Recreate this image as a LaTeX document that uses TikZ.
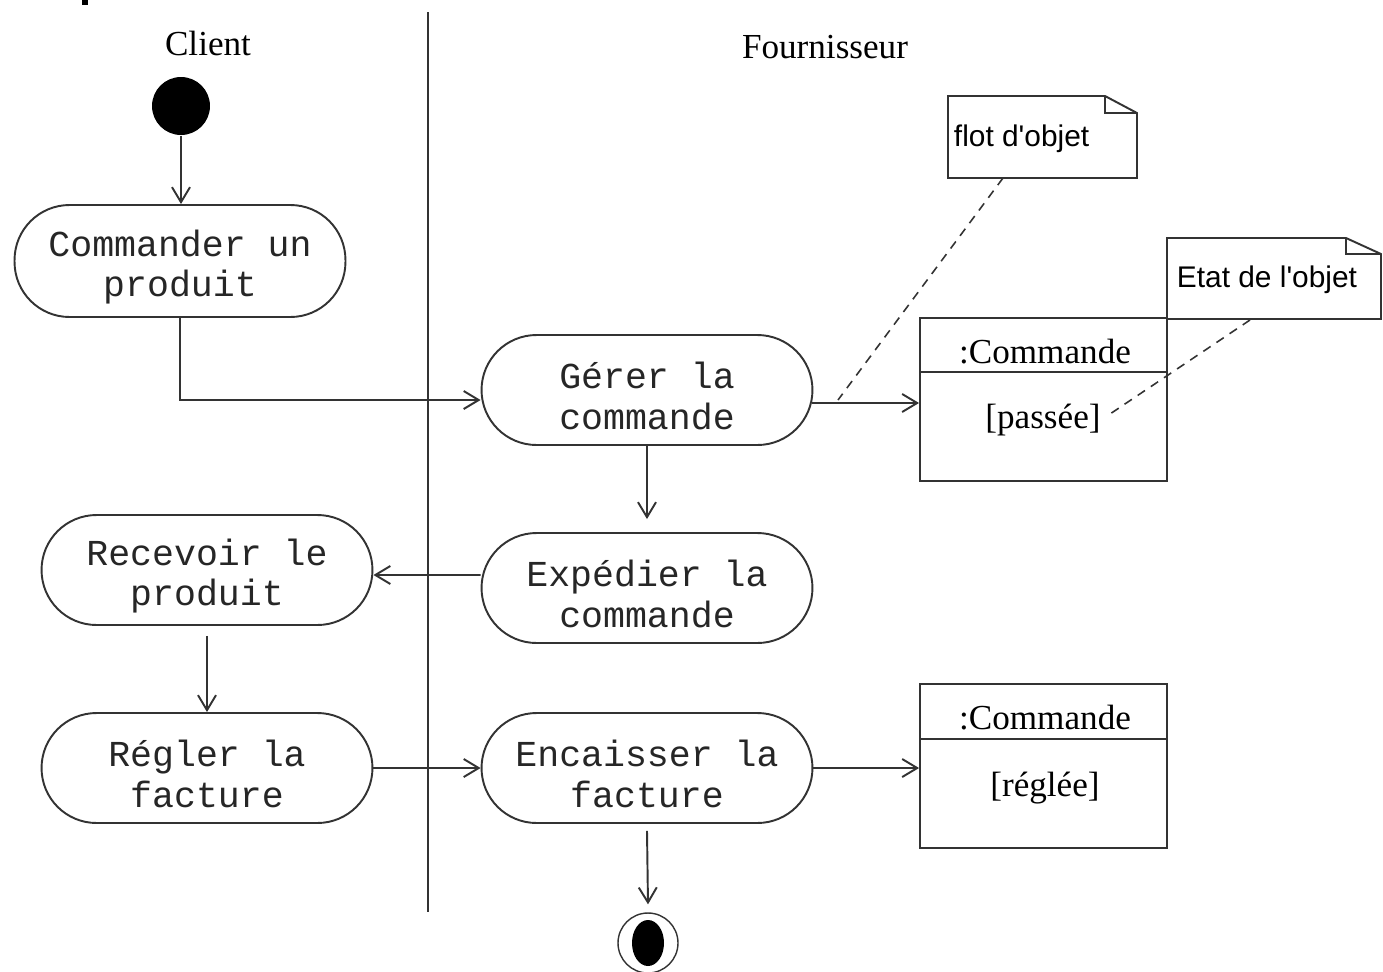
\documentclass[tikz,border=0pt]{standalone}
\usepackage{fontspec}
\setmainfont{Liberation Serif}
\newfontfamily\actfont{Liberation Mono}
\newfontfamily\notefont{Liberation Sans}
\usetikzlibrary{arrows.meta,calc}
% invisible strut that lowers the two-line activity labels a little
\newcommand\actstrut{\rule{0pt}{22pt}}

\begin{document}
\begin{tikzpicture}[
  x=0.02cm, y=-0.02cm,
  line width=1.1pt, draw=black!80,
  activity/.style={draw, rounded corners=1.1cm, minimum width=6.62cm,
    minimum height=2.2cm, inner sep=0pt, align=center, text=black!85,
    font=\actfont\fontsize{20.8}{23.2}\selectfont},
  lanetitle/.style={font=\fontsize{20}{24}\selectfont, inner sep=0pt},
  objbox/.style={draw, minimum width=4.94cm, inner sep=0pt},
  objtext/.style={font=\fontsize{20}{24}\selectfont, inner sep=0pt},
  notetext/.style={font=\notefont\fontsize{17}{20}\selectfont, inner sep=0pt, anchor=west},
  notebox/.style={draw, fill=white},
  flow/.style={-{Straight Barb[length=3mm,width=3.6mm]}},
  link/.style={dashed, dash pattern=on 5pt off 4pt, line width=0.9pt}
]
\useasboundingbox (0,0) rectangle (1383,971);
\fill[white] (0,0) rectangle (1383,971);
\fill[black] (82,0) rectangle (88,5);

% swimlanes
\node[lanetitle] (client) at (208,43) {Client};
\node[lanetitle] (fourn) at (825,47) {Fournisseur};
\draw (428,12) -- (428,912);

% start and activities
\node[fill=black, circle, minimum size=1.16cm, inner sep=0pt] (start) at (181,106) {};
\node[activity, minimum height=2.24cm] (commander) at (180,261) {\actstrut Commander un\\produit};
\node[activity] (gerer) at (647,390) {\actstrut Gérer la\\commande};
\node[activity] (expedier) at (647,588) {\actstrut Expédier la\\commande};
\node[activity] (recevoir) at (207,570) {\actstrut Recevoir le\\produit};
\node[activity] (regler) at (207,768) {\actstrut Régler la\\facture};
\node[activity] (encaisser) at (647,768) {\actstrut Encaisser la\\facture};

% object nodes
\node[objbox, minimum height=3.26cm] (obj1) at (1043.5,399.5) {};
\draw (920,372) -- (1167,372);
\node[objtext] (obj1name) at (1045,352) {:Commande};
\node[objtext] (obj1state) at (1043,420) {[passée]};

\node[objbox, minimum height=3.28cm] (obj2) at (1043.5,766) {};
\draw (920,739) -- (1167,739);
\node[objtext] (obj2name) at (1045,718) {:Commande};
\node[objtext] (obj2state) at (1045,788) {[réglée]};

% notes
\draw[notebox] (948,96) -- (1105,96) -- (1137,113) -- (1137,178) -- (948,178) -- cycle;
\draw (1105,96) -- (1105,113) -- (1137,113);
\node[notetext] (note1) at (953,139) {flot d'objet};

\draw[notebox] (1167,238) -- (1346,238) -- (1381,254) -- (1381,319) -- (1167,319) -- cycle;
\draw (1346,238) -- (1346,254) -- (1381,254);
\node[notetext] (note2) at (1176,280) {Etat de l'objet};

% final node
\node[draw, circle, minimum size=1.2cm, inner sep=0pt, line width=0.8pt] (final) at (648,943) {};
\fill[black] (final.center) ellipse [x radius=0.32cm, y radius=0.46cm];

% control flow
\draw[flow] (start.south) -- (start.south |- commander.north);
\draw[flow] (commander.south) |- ([yshift=-0.2cm]gerer.west);
\draw[flow] ([xshift=-0.03cm,yshift=-0.26cm]gerer.east) -- ([yshift=-0.26cm]gerer.east -| obj1.west);
\draw[flow, shorten >=0.26cm] (gerer.south) -- (expedier.north);
\draw[flow] ([yshift=0.26cm]expedier.west) -- ([yshift=-0.1cm]recevoir.east);
\draw[flow] ([yshift=-0.2cm]recevoir.south) -- (regler.north);
\draw[flow] (regler.east) -- (encaisser.west);
\draw[flow] (encaisser.east) -- (encaisser.east -| obj2.west);
\draw[flow] ([yshift=-0.14cm]encaisser.south) -- ([yshift=0.16cm]final.north);

% note links
\coordinate (n1foot) at (1003,178);
\coordinate (n1tip) at (838,400);
\draw[link] (n1foot) -- (n1tip);
\coordinate (n2foot) at (1250,320);
\coordinate (n2tip) at (1110,414);
\draw[link] (n2foot) -- (n2tip);
\end{tikzpicture}
\end{document}
